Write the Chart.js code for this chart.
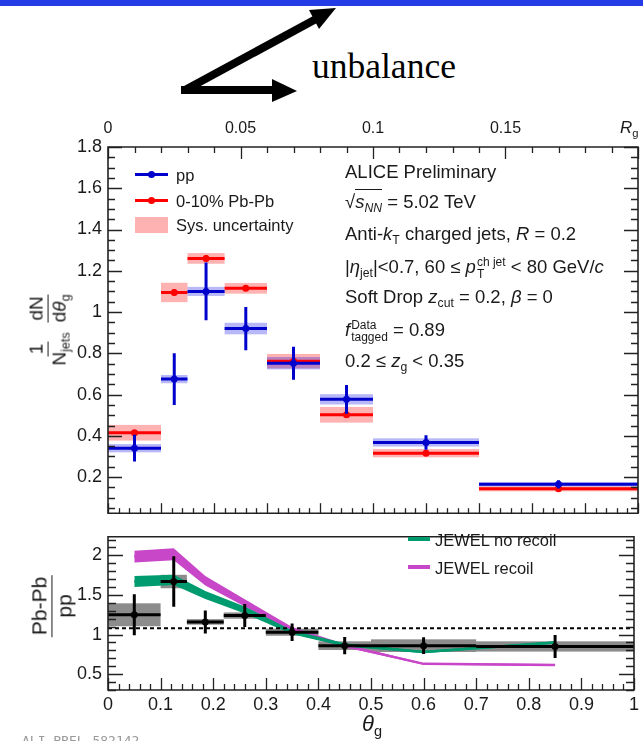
<!DOCTYPE html>
<html>
<head>
<meta charset="utf-8">
<script src="https://cdn.jsdelivr.net/npm/chart.js@4.4.1/dist/chart.umd.min.js"></script>
<style>
  body { margin: 0; background: #fff; }
  #wrap { position: relative; width: 643px; height: 741px; overflow: hidden; background: #fff;
          font-family: "Liberation Sans", Arial, sans-serif; color: #1a1a1a; }
  .abs { position: absolute; white-space: nowrap; line-height: 20px; }
  canvas { position: absolute; left: 0; }
  sub { font-size: 0.66em; vertical-align: -0.35em; line-height: 0; }
  .ss { display: inline-flex; flex-direction: column; vertical-align: middle; font-size: 12px; line-height: 12px; margin-left: 1px; }
  .note { font-size: 18.5px; left: 345px; }
  .leg { font-size: 16.5px; }
  .frac { display: inline-flex; flex-direction: column; align-items: center; vertical-align: middle; margin: 0 3px; line-height: 1.05; }
  .frac .num { border-bottom: 1.6px solid #1a1a1a; padding: 0 2px 1px; }
  .frac .den { padding: 1px 2px 0; }
</style>
</head>
<body>
<div id="wrap">
  <div style="position:absolute;left:0;top:0;width:643px;height:6px;background:#233ce6"></div>
  <svg style="position:absolute;left:0;top:0" width="643" height="110">
    <line x1="185" y1="90" x2="316" y2="19" stroke="#000" stroke-width="8"/>
    <polygon points="336,8 319,29 309,10" fill="#000"/>
    <line x1="181" y1="90" x2="276" y2="90" stroke="#000" stroke-width="8"/>
    <polygon points="272,79 297,91 272,102" fill="#000"/>
  </svg>
  <div class="abs" style="left:312px;top:46px;font-family:'Liberation Serif','Times New Roman',serif;font-size:35.5px;line-height:40px;color:#000">unbalance</div>

  <canvas id="topChart" width="643" height="430" style="top:100px"></canvas>
  <canvas id="botChart" width="643" height="221" style="top:520px"></canvas>

  <!-- top axis title -->
  <div class="abs" style="left:620px;top:118px;font-size:17px"><i>R</i><sub>g</sub></div>

  <!-- y titles -->
  <div class="abs" style="left:48px;top:330px;font-size:19px;transform:translate(-50%,-50%) rotate(-90deg)">
    <span class="frac"><span class="num">1</span><span class="den">N<sub>jets</sub></span></span><span class="frac"><span class="num">dN</span><span class="den">d<i>θ</i><sub>g</sub></span></span>
  </div>
  <div class="abs" style="left:52px;top:606px;font-size:21px;transform:translate(-50%,-50%) rotate(-90deg)">
    <span class="frac"><span class="num">Pb-Pb</span><span class="den">pp</span></span>
  </div>
  <div class="abs" style="left:372px;top:724px;font-size:22px;transform:translate(-50%,-50%)"><i>θ</i><sub>g</sub></div>

  <!-- top legend -->
  <div class="abs" style="left:135px;top:173px;width:33px;height:3px;background:#0000cc"></div>
  <div class="abs" style="left:148px;top:171px;width:7px;height:7px;border-radius:50%;background:#0000cc"></div>
  <div class="abs leg" style="left:176px;top:165px">pp</div>
  <div class="abs" style="left:135px;top:199px;width:33px;height:3px;background:#ff0000"></div>
  <div class="abs" style="left:148px;top:197px;width:7px;height:7px;border-radius:50%;background:#ff0000"></div>
  <div class="abs leg" style="left:176px;top:191px">0-10% Pb-Pb</div>
  <div class="abs" style="left:135px;top:217px;width:33px;height:16px;background:rgba(255,0,0,0.3)"></div>
  <div class="abs leg" style="left:176px;top:215px">Sys. uncertainty</div>

  <!-- annotations -->
  <div class="abs note" style="top:162px">ALICE Preliminary</div>
  <div class="abs note" style="top:192px">√<span style="border-top:1.3px solid #1a1a1a;padding-top:1px"><i>s</i><sub><i>NN</i></sub></span> = 5.02 TeV</div>
  <div class="abs note" style="top:224px">Anti-<i>k</i><sub>T</sub> charged jets, <i>R</i> = 0.2</div>
  <div class="abs note" style="top:256px">|<i>η</i><sub>jet</sub>|&lt;0.7, 60 ≤ <i>p</i><span class="ss"><span>ch jet</span><span>T</span></span> &lt; 80 GeV/<i>c</i></div>
  <div class="abs note" style="top:287px">Soft Drop <i>z</i><sub>cut</sub> = 0.2, <i>β</i> = 0</div>
  <div class="abs note" style="top:319px"><i>f</i><span class="ss"><span>Data</span><span>tagged</span></span> = 0.89</div>
  <div class="abs note" style="top:351px">0.2 ≤ <i>z</i><sub>g</sub> &lt; 0.35</div>

  <!-- bottom legend -->
  <div class="abs" style="left:408px;top:537px;width:22px;height:4px;background:#009b6e"></div>
  <div class="abs leg" style="left:435px;top:530px">JEWEL no recoil</div>
  <div class="abs" style="left:408px;top:565px;width:22px;height:4px;background:#c846c8"></div>
  <div class="abs leg" style="left:435px;top:558px">JEWEL recoil</div>

  <div class="abs" style="left:22px;top:731px;font-family:'DejaVu Sans Mono',monospace;font-size:13px;color:#9a9a9a">ALI-PREL-582142</div>
</div>

<script>
// theta_g bins
const binLo  = [0, 0.1, 0.15, 0.22, 0.3, 0.4, 0.5, 0.7];
const binHi  = [0.1, 0.15, 0.22, 0.3, 0.4, 0.5, 0.7, 1.0];
const binMid = [0.05, 0.125, 0.185, 0.26, 0.35, 0.45, 0.6, 0.85];

// top panel: 1/Njets dN/dtheta_g
const ppVal  = [0.34, 0.675, 1.10, 0.92, 0.752, 0.577, 0.368, 0.165];
const ppStat = [0.065, 0.125, 0.14, 0.105, 0.08, 0.07, 0.035, 0.02];
const ppSys  = [0.02, 0.02, 0.022, 0.028, 0.03, 0.025, 0.02, 0.01];
const pbVal  = [0.415, 1.095, 1.26, 1.115, 0.762, 0.502, 0.316, 0.143];
const pbStat = [0.012, 0.015, 0.015, 0.012, 0.01, 0.01, 0.008, 0.006];
const pbSys  = [0.038, 0.047, 0.026, 0.026, 0.035, 0.038, 0.02, 0.012];

// bottom panel: Pb-Pb / pp
const ratioVal  = [1.25, 1.67, 1.16, 1.24, 1.03, 0.86, 0.86, 0.85];
const ratioStat = [0.26, 0.32, 0.145, 0.145, 0.11, 0.11, 0.105, 0.145];
const ratioSys  = [0.145, 0.085, 0.035, 0.04, 0.045, 0.055, 0.08, 0.065];
const fTagRatio = 1.08;

// JEWEL bands (upper / lower edge at bin centres)
const noRecoilHi = [1.74, 1.755, 1.55, 1.355, 1.055, 0.89, 0.795, 0.915];
const noRecoilLo = [1.60, 1.625, 1.45, 1.265, 1.005, 0.85, 0.765, 0.885];
const recoilHi   = [2.06, 2.09, 1.74, 1.445, 1.095, 0.88, 0.642, 0.627];
const recoilLo   = [1.91, 1.94, 1.62, 1.355, 1.025, 0.84, 0.618, 0.603];

// tick labels
const topYTicks   = [0.2, 0.4, 0.6, 0.8, 1, 1.2, 1.4, 1.6, 1.8];
const topYLabels  = ['0.2', '0.4', '0.6', '0.8', '1', '1.2', '1.4', '1.6', '1.8'];
const rgTicks     = [0, 0.05, 0.1, 0.15];
const rgLabels    = ['0', '0.05', '0.1', '0.15'];
const botYTicks   = [0.5, 1, 1.5, 2];
const botYLabels  = ['0.5', '1', '1.5', '2'];
const thetaTicks  = [0, 0.1, 0.2, 0.3, 0.4, 0.5, 0.6, 0.7, 0.8, 0.9, 1];
const thetaLabels = ['0', '0.1', '0.2', '0.3', '0.4', '0.5', '0.6', '0.7', '0.8', '0.9', '1'];

const BLUE = '#0000cc', RED = '#ff0000', GREEN = '#009b6e', MAGENTA = '#c846c8';
const FONT = "'Liberation Sans', Arial, sans-serif";

// helpers turning the arrays into line segments (null breaks the line)
const hSegs = vals => binLo.flatMap((lo, i) => [{x: lo, y: vals[i]}, {x: binHi[i], y: vals[i]}, {x: binHi[i], y: null}]);
const vSegs = (vals, errs) => binMid.flatMap((m, i) => [{x: m, y: vals[i] - errs[i]}, {x: m, y: vals[i] + errs[i]}, {x: m, y: null}]);
const pts = vals => binMid.map((m, i) => ({x: m, y: vals[i]}));

const segSet = (data, color, width, order) => ({
    data, borderColor: color, borderWidth: width, pointRadius: 0, borderCapStyle: 'butt', order
});
const markSet = (data, color, order) => ({
    data, showLine: false, pointRadius: 3.5, pointBackgroundColor: color, pointBorderWidth: 0, order
});
const bandEdge = (data, fill, color, order) => ({
    data, borderWidth: 0, borderColor: 'rgba(0,0,0,0)', pointRadius: 0, fill, backgroundColor: color, order
});

const fixedTicks = (vals, labels, size, pad, extra) => Object.assign({
    afterBuildTicks: s => { s.ticks = vals.map(v => ({value: v})); },
    ticks: {callback: (v, i) => labels[i], autoSkip: false, maxRotation: 0, padding: pad,
            font: {family: FONT, size: size}, color: '#1a1a1a'},
    grid: {display: false, drawTicks: false},
    border: {display: false}
}, extra);

// ROOT style frame, inward tick marks and systematic boxes
function rootFrame(boxes, tickSpecs) {
    return {
        id: 'rootFrame',
        beforeDatasetsDraw(chart) {
            const ctx = chart.ctx, xs = chart.scales.x, ys = chart.scales.y;
            boxes.forEach(b => {
                ctx.save();
                ctx.fillStyle = b.color;
                b.val.forEach((v, i) => {
                    const x0 = xs.getPixelForValue(binLo[i]), x1 = xs.getPixelForValue(binHi[i]);
                    const y0 = ys.getPixelForValue(v + b.err[i]), y1 = ys.getPixelForValue(v - b.err[i]);
                    ctx.fillRect(x0, y0, x1 - x0, y1 - y0);
                });
                ctx.restore();
            });
        },
        afterDraw(chart) {
            const ctx = chart.ctx, a = chart.chartArea;
            ctx.save();
            ctx.setLineDash([]);
            ctx.strokeStyle = '#222222';
            ctx.lineWidth = 1.3;
            for (const t of tickSpecs) {
                const s = chart.scales[t.axis];
                const n = Math.round((t.end - t.start) / t.step);
                for (let k = 0; k <= n; k++) {
                    const v = t.start + k * t.step;
                    const q = v / t.every;
                    const len = Math.abs(q - Math.round(q)) < 1e-6 ? t.bigLen : t.smallLen;
                    const p = Math.round(s.getPixelForValue(v)) + 0.5;
                    ctx.beginPath();
                    for (const side of t.sides) {
                        if (side === 'bottom') { ctx.moveTo(p, a.bottom); ctx.lineTo(p, a.bottom - len); }
                        if (side === 'top') { ctx.moveTo(p, a.top); ctx.lineTo(p, a.top + len); }
                        if (side === 'left') { ctx.moveTo(a.left, p); ctx.lineTo(a.left + len, p); }
                        if (side === 'right') { ctx.moveTo(a.right, p); ctx.lineTo(a.right - len, p); }
                    }
                    ctx.stroke();
                }
            }
            ctx.lineWidth = 1.6;
            ctx.beginPath();
            ctx.rect(a.left, a.top, a.right - a.left, a.bottom - a.top);
            ctx.stroke();
            ctx.restore();
        }
    };
}

const common = {
    responsive: false,
    animation: false,
    devicePixelRatio: 1,
    plugins: {legend: {display: false}, tooltip: {enabled: false}}
};

new Chart(document.getElementById('topChart'), {
    type: 'line',
    data: {
        datasets: [
            markSet(pts(ppVal), BLUE, 0),
            segSet(hSegs(ppVal), BLUE, 3, 1),
            segSet(vSegs(ppVal, ppStat), BLUE, 3, 1),
            markSet(pts(pbVal), RED, 2),
            segSet(hSegs(pbVal), RED, 3, 3),
            segSet(vSegs(pbVal, pbStat), RED, 3, 3)
        ]
    },
    options: Object.assign({}, common, {
        layout: {padding: {left: 0, right: 5, top: 0, bottom: 5}},
        scales: {
            x: {type: 'linear', min: 0, max: 1, display: false},
            xr: fixedTicks(rgTicks, rgLabels, 16, 9, {
                type: 'linear', position: 'top', min: 0, max: 0.2,
                afterFit: s => { s.height = 47; }
            }),
            y: fixedTicks(topYTicks, topYLabels, 18, 6, {
                type: 'linear', min: 0.025, max: 1.8,
                afterFit: s => { s.width = 108; }
            })
        }
    }),
    plugins: [rootFrame(
        [
            {val: pbVal, err: pbSys, color: 'rgba(255,0,0,0.3)'},
            {val: ppVal, err: ppSys, color: 'rgba(0,0,230,0.28)'}
        ],
        [
            {axis: 'x', start: 0, end: 1, step: 0.02, every: 0.1, bigLen: 10, smallLen: 5, sides: ['bottom']},
            {axis: 'xr', start: 0, end: 0.2, step: 0.01, every: 0.05, bigLen: 12, smallLen: 6, sides: ['top']},
            {axis: 'y', start: 0.05, end: 1.8, step: 0.05, every: 0.2, bigLen: 14, smallLen: 7, sides: ['left', 'right']}
        ]
    )]
});

new Chart(document.getElementById('botChart'), {
    type: 'line',
    data: {
        datasets: [
            markSet(pts(ratioVal), '#000', 0),
            segSet(hSegs(ratioVal), '#000', 3, 1),
            segSet(vSegs(ratioVal, ratioStat), '#000', 3, 1),
            {data: [{x: 0, y: fTagRatio}, {x: 1, y: fTagRatio}], borderColor: '#000', borderWidth: 2, borderDash: [4, 3], pointRadius: 0, order: 2},
            bandEdge(pts(recoilHi), false, MAGENTA, 4),
            bandEdge(pts(recoilLo), '-1', MAGENTA, 4),
            bandEdge(pts(noRecoilHi), false, GREEN, 3),
            bandEdge(pts(noRecoilLo), '-1', GREEN, 3),
            {data: pts(recoilLo.map((v, i) => (v + recoilHi[i]) / 2)), borderColor: MAGENTA, borderWidth: 2.5, pointRadius: 0, order: 4},
            {data: pts(noRecoilLo.map((v, i) => (v + noRecoilHi[i]) / 2)), borderColor: GREEN, borderWidth: 2.5, pointRadius: 0, order: 3}
        ]
    },
    options: Object.assign({}, common, {
        layout: {padding: {left: 0, right: 5, top: 5, bottom: 0}},
        scales: {
            x: fixedTicks(thetaTicks, thetaLabels, 18, 4, {
                type: 'linear', min: 0, max: 1,
                afterFit: s => { s.height = 51; }
            }),
            y: fixedTicks(botYTicks, botYLabels, 18, 6, {
                type: 'linear', min: 0.3, max: 2.235,
                afterFit: s => { s.width = 108; }
            })
        }
    }),
    plugins: [rootFrame(
        [{val: ratioVal, err: ratioSys, color: 'rgba(0,0,0,0.45)'}],
        [
            {axis: 'x', start: 0, end: 1, step: 0.02, every: 0.1, bigLen: 12, smallLen: 6, sides: ['bottom']},
            {axis: 'y', start: 0.3, end: 2.2, step: 0.1, every: 0.5, bigLen: 15, smallLen: 8, sides: ['left', 'right']}
        ]
    )]
});
</script>
</body>
</html>
